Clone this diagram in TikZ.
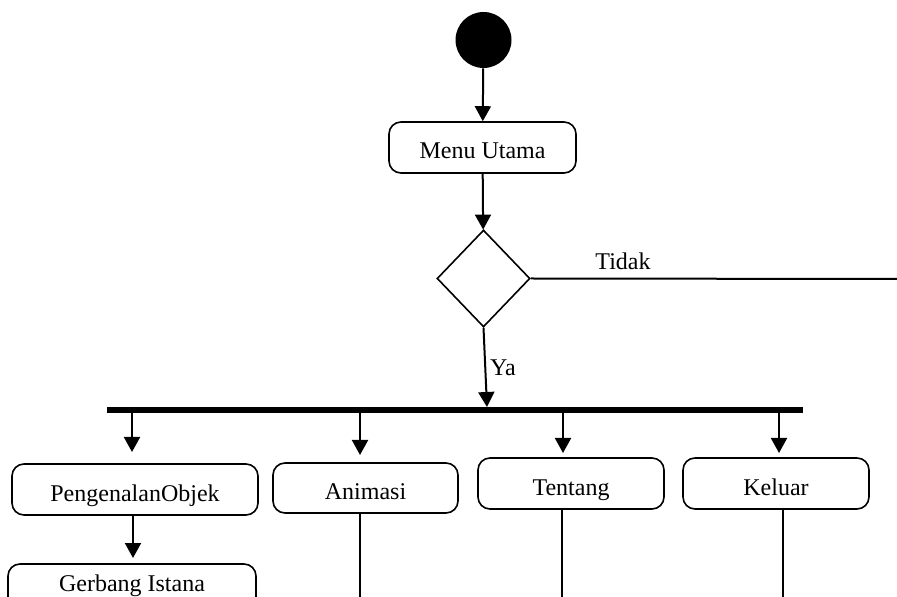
\documentclass[tikz,border=0pt]{standalone}
\usepackage{fontspec}
\setmainfont{Liberation Serif}
\usetikzlibrary{shapes.geometric,arrows.meta}
\begin{document}
\begin{tikzpicture}[x=0.5pt,y=-0.5pt,
  act/.style={draw, rounded corners=6pt, line width=0.8pt, inner sep=0pt, text height=12pt, text depth=0.5pt, font=\fontsize{12}{14}\selectfont},
  arr/.style={line width=1pt, -{Triangle[width=8pt,length=7.5pt]}},
  plainline/.style={line width=1pt},
  lbl/.style={font=\fontsize{12}{14}\selectfont, inner sep=0pt}]
\useasboundingbox (0,0) rectangle (897,597);
\clip (0,0) rectangle (897,597);

% start
\node[circle, fill=black, minimum size=28pt, inner sep=0pt] (start) at (483.5,40) {};
% menu
\node[act, minimum width=93.5pt, minimum height=25.5pt] (menu) at (482.5,147.5) {Menu Utama};
% decision
\node[diamond, draw, line width=0.8pt, inner sep=0pt, minimum width=46.5pt, minimum height=48.5pt] (dec) at (483.5,278.5) {};
% fork bar
\node[rectangle, fill=black, minimum width=348pt, minimum height=3pt, inner sep=0pt] (bar) at (455,410) {};

% activities
\node[act, minimum width=123pt, minimum height=25.5pt] (peng) at (135,489.5) {PengenalanObjek};
\node[act, minimum width=92.5pt, minimum height=25pt] (anim) at (365.5,488) {Animasi};
\node[act, minimum width=93pt, minimum height=25.5pt] (tent) at (571,483.5) {Tentang};
\node[act, minimum width=93pt, minimum height=25.5pt] (kel) at (776,483.5) {Keluar};
\node[act, minimum width=124pt, minimum height=25.5pt] (gerb) at (132,589.5) {};
\node[lbl, anchor=base] (gerbt) at (132,591) {Gerbang Istana};

% labels
\node[lbl] (tidak) at (623,261) {Tidak};
\node[lbl] (ya) at (503,368) {Ya};

% coordinates
\coordinate (tidakend) at (897,279);
\coordinate (yaend) at (487,407);
\coordinate (b1) at (132,413);
\coordinate (b2) at (360,413);
\coordinate (b3) at (563,413);
\coordinate (b4) at (779,413);
\coordinate (t1) at (132,452);
\coordinate (t2) at (360,455);
\coordinate (t3) at (563,453);
\coordinate (t4) at (779,453);
\coordinate (pg) at (133,558);
\coordinate (a1) at (360,513);
\coordinate (a2) at (360,597);
\coordinate (c1) at (562,509);
\coordinate (c2) at (562,597);
\coordinate (d1) at (783,509);
\coordinate (d2) at (783,597);

% connectors
\draw[arr] (start) -- (menu);
\draw[arr] (menu) -- (dec);
\draw[plainline] (dec.east) -- (tidakend);
\draw[arr] (dec.south) -- (yaend);
\draw[arr] (b1) -- (t1);
\draw[arr] (b2) -- (t2);
\draw[arr] (b3) -- (t3);
\draw[arr] (b4) -- (t4);
\draw[arr] (peng.south -| pg) -- (pg);
\draw[plainline] (a1) -- (a2);
\draw[plainline] (c1) -- (c2);
\draw[plainline] (d1) -- (d2);
\end{tikzpicture}
\end{document}
